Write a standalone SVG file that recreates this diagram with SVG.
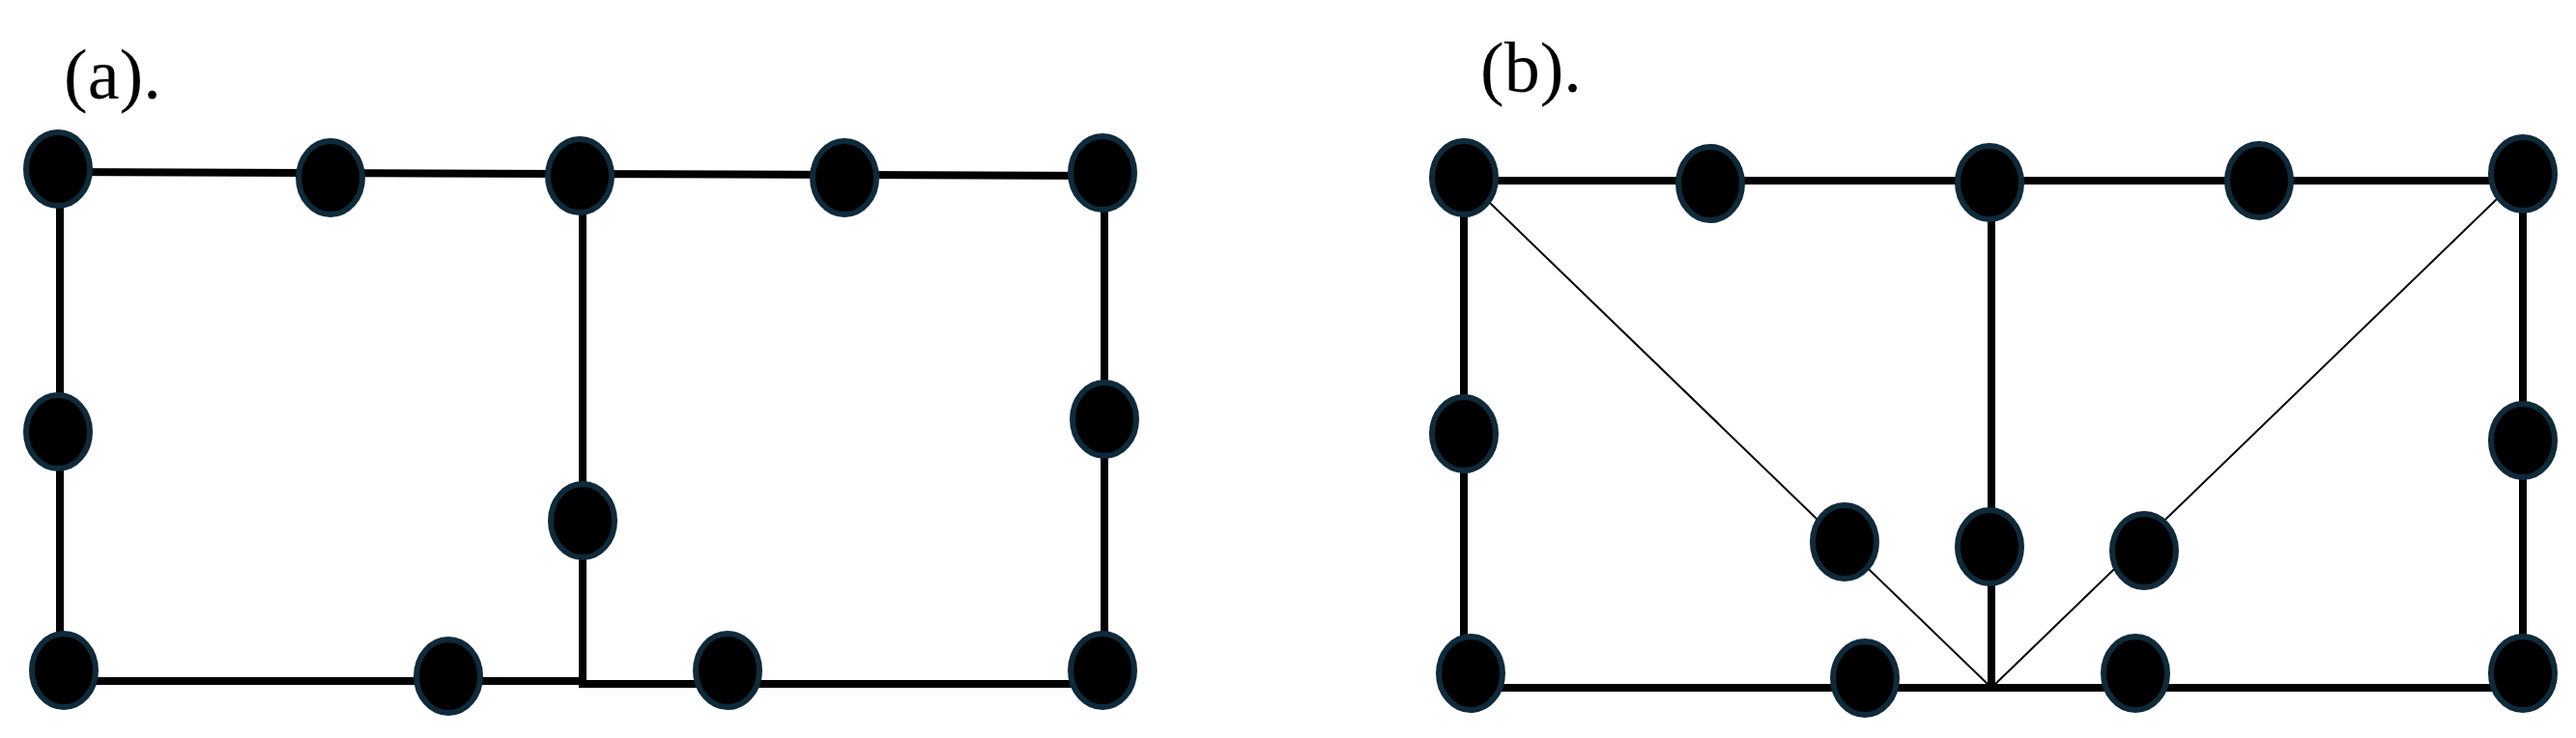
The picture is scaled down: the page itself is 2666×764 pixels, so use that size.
<svg xmlns="http://www.w3.org/2000/svg" width="2666" height="764" viewBox="0 0 2666 764">
<style>
.n{fill:#000;stroke:#0f2a3a;stroke-width:6}
.e{stroke:#000;stroke-width:8;fill:none;stroke-linecap:square}
.d{stroke:#000;stroke-width:2;fill:none}
.t{font-family:"Liberation Serif",serif;font-size:74px;fill:#000}
</style>
<rect width="2666" height="764" fill="#fff"/>
<g id="connectors">
<polyline class="e" points="60,178 1141,182"/>
<line class="e" x1="62" y1="175" x2="62" y2="694"/>
<line class="e" x1="603" y1="182" x2="603" y2="706"/>
<line class="e" x1="1143" y1="179" x2="1143" y2="694"/>
<line class="e" x1="66" y1="705" x2="603" y2="705"/>
<line class="e" x1="603" y1="708" x2="1141" y2="708"/>
<line class="e" x1="1515" y1="187" x2="2611" y2="187"/>
<line class="e" x1="1515" y1="184" x2="1515" y2="697"/>
<line class="e" x1="2611" y1="180" x2="2611" y2="697"/>
<line class="e" x1="2061" y1="189" x2="2061" y2="712"/>
<line class="e" x1="1522" y1="712" x2="2611" y2="712"/>
<line class="d" x1="1515" y1="184" x2="2061" y2="712"/>
<line class="d" x1="2611" y1="180" x2="2061" y2="712"/>
</g>
<text class="t" x="66" y="102">(a).</text>
<text class="t" x="1532" y="95">(b).</text>
<g id="a1"><ellipse class="n" cx="60" cy="175" rx="33" ry="38"/></g>
<g id="a2"><ellipse class="n" cx="342" cy="184" rx="33" ry="38"/></g>
<g id="a3"><ellipse class="n" cx="600" cy="182" rx="33" ry="38"/></g>
<g id="a4"><ellipse class="n" cx="874" cy="184" rx="33" ry="38"/></g>
<g id="a5"><ellipse class="n" cx="1141" cy="179" rx="33" ry="38"/></g>
<g id="a6"><ellipse class="n" cx="60" cy="447" rx="33" ry="38"/></g>
<g id="a7"><ellipse class="n" cx="1143" cy="434" rx="33" ry="38"/></g>
<g id="a8"><ellipse class="n" cx="603" cy="539" rx="33" ry="38"/></g>
<g id="a9"><ellipse class="n" cx="66" cy="694" rx="33" ry="38"/></g>
<g id="a10"><ellipse class="n" cx="464" cy="700" rx="33" ry="38"/></g>
<g id="a11"><ellipse class="n" cx="753" cy="694" rx="33" ry="38"/></g>
<g id="a12"><ellipse class="n" cx="1141" cy="694" rx="33" ry="38"/></g>
<g id="b1"><ellipse class="n" cx="1515" cy="184" rx="33" ry="38"/></g>
<g id="b2"><ellipse class="n" cx="1770" cy="190" rx="33" ry="38"/></g>
<g id="b3"><ellipse class="n" cx="2059" cy="189" rx="33" ry="38"/></g>
<g id="b4"><ellipse class="n" cx="2338" cy="187" rx="33" ry="38"/></g>
<g id="b5"><ellipse class="n" cx="2611" cy="180" rx="33" ry="38"/></g>
<g id="b6"><ellipse class="n" cx="1515" cy="449" rx="33" ry="38"/></g>
<g id="b7"><ellipse class="n" cx="2611" cy="456" rx="33" ry="38"/></g>
<g id="b8"><ellipse class="n" cx="1909" cy="561" rx="33" ry="38"/></g>
<g id="b9"><ellipse class="n" cx="2059" cy="566" rx="33" ry="38"/></g>
<g id="b10"><ellipse class="n" cx="2219" cy="570" rx="33" ry="38"/></g>
<g id="b11"><ellipse class="n" cx="1522" cy="697" rx="33" ry="38"/></g>
<g id="b12"><ellipse class="n" cx="1930" cy="702" rx="33" ry="38"/></g>
<g id="b13"><ellipse class="n" cx="2210" cy="697" rx="33" ry="38"/></g>
<g id="b14"><ellipse class="n" cx="2611" cy="697" rx="33" ry="38"/></g>
</svg>
